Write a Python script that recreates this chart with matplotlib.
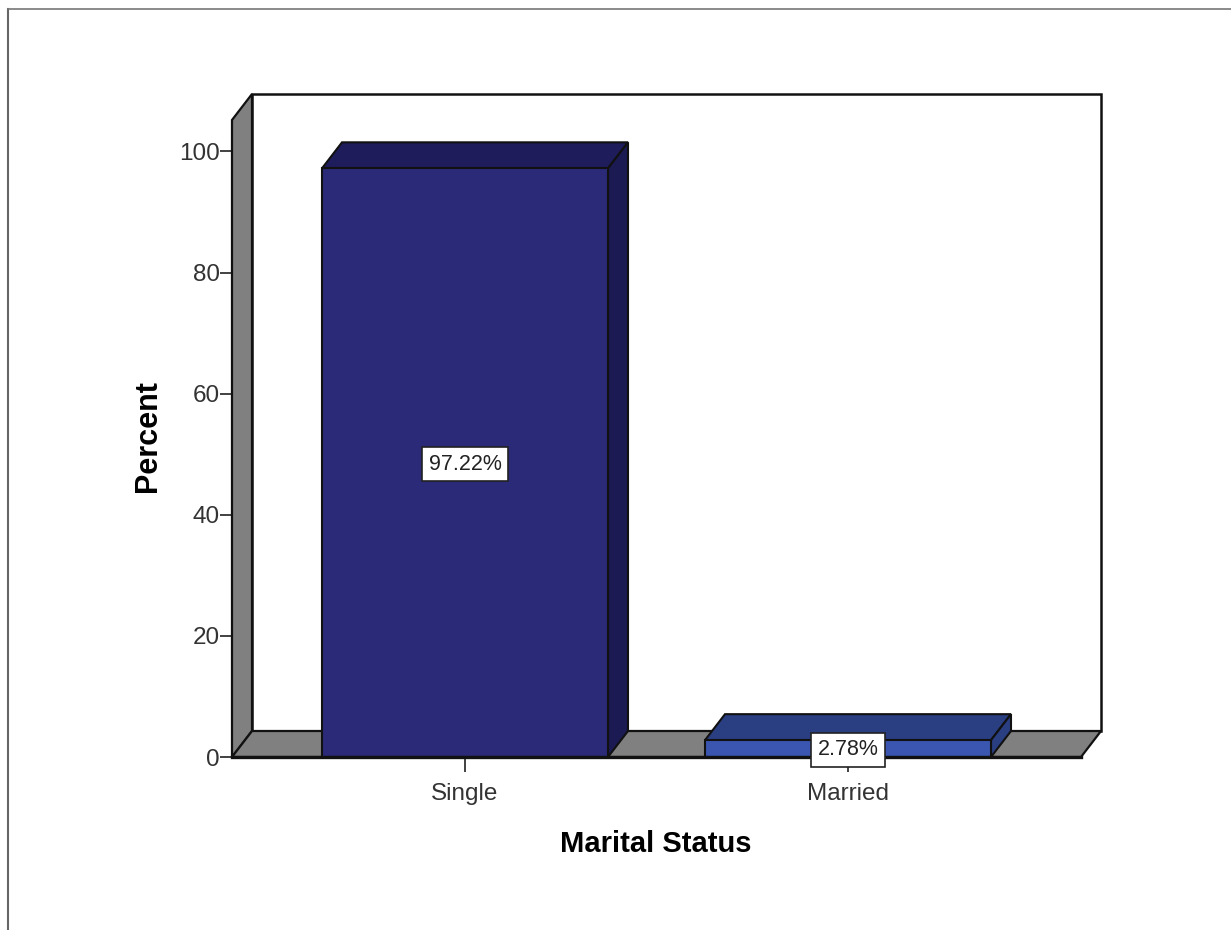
import matplotlib
matplotlib.use('Agg')
import matplotlib.pyplot as plt
from matplotlib.lines import Line2D
from matplotlib.patches import Polygon, Rectangle

categories = ['Single', 'Married']
percents = [97.22, 2.78]
labels = ['97.22%', '2.78%']
yticks = [0, 20, 40, 60, 80, 100]
front_colors = ['#2B2A78', '#3A56B0']
top_colors = ['#1F1C5C', '#2A3E82']
side_colors = ['#1B1A52', '#2A3E82']

W, H = 1231, 930
plt.rcParams['font.family'] = ['Liberation Sans', 'DejaVu Sans']
fig = plt.figure(figsize=(W / 100, H / 100), dpi=100, facecolor='white')

# Front plane of the 3-D box in pixels
L, R, B, T = 232, 1081, 757, 120
ax = fig.add_axes([L / W, 1 - B / H, (R - L) / W, (B - T) / H])
ppx = 383.0   # pixels per category step
ppy = 6.055   # pixels per percent
x0 = (L - 465) / ppx
x1 = (R - 465) / ppx
ymax = (B - T) / ppy
ax.set_xlim(x0, x1)
ax.set_ylim(0, ymax)
ax.set_facecolor('none')
for s in ax.spines.values():
    s.set_visible(False)

dx = 20 / ppx
dy = 26 / ppy
edge = '#111111'
wall = '#808080'


def poly(pts, fc, lw=2.0, z=2):
    ax.add_patch(Polygon(pts, closed=True, facecolor=fc, edgecolor=edge,
                         linewidth=lw, joinstyle='miter', clip_on=False, zorder=z))


# Back wall, left wall, floor
poly([(x0 + dx, dy), (x1 + dx, dy), (x1 + dx, ymax + dy), (x0 + dx, ymax + dy)], 'white', 1.8, 1)
poly([(x0, 0), (x0 + dx, dy), (x0 + dx, ymax + dy), (x0, ymax)], wall, 1.6, 1.5)
poly([(x0, 0), (x1, 0), (x1 + dx, dy), (x0 + dx, dy)], wall, 1.6, 1.5)

# Bars
width = 286 / ppx
xpos = list(range(len(categories)))
for i, (xc, v) in enumerate(zip(xpos, percents)):
    a, b = xc - width / 2, xc + width / 2
    poly([(a, v), (b, v), (b + dx, v + dy), (a + dx, v + dy)], top_colors[i], 1.5, 3)
    poly([(b, 0), (b + dx, dy), (b + dx, v + dy), (b, v)], side_colors[i], 1.5, 3)
    ax.add_patch(Rectangle((a, 0), width, v, facecolor=front_colors[i], edgecolor=edge,
                           linewidth=1.5, clip_on=False, zorder=3.5))
    ax.annotate(labels[i], (xc, v / 2), xytext=(0, -1), textcoords='offset points',
                ha='center', va='center', fontsize=15.5, color='#222222', zorder=6,
                bbox=dict(boxstyle='square,pad=0.3', facecolor='white', edgecolor='#222222', linewidth=1.2))

# Floor front edge on top
ax.add_line(Line2D([x0, x1], [0, 0], color=edge, lw=2.4, clip_on=False, zorder=4))

ax.set_xticks(xpos)
ax.set_xticklabels(categories)
ax.set_yticks(yticks)
ax.tick_params(axis='x', length=11, width=1.3, color='#333333', labelsize=17.5, labelcolor='#333333', pad=8)
ax.tick_params(axis='y', length=9, width=1.3, color='#333333', labelsize=17.5, labelcolor='#333333', pad=0)
ax.set_axisbelow(True)

fig.text(656 / W, 1 - 843.5 / H, 'Marital Status', ha='center', va='center',
         fontsize=21, fontweight='bold', color='black')
fig.text(147.5 / W, 1 - 436 / H, 'Percent', ha='center', va='center', rotation=90,
         fontsize=22, fontweight='bold', color='black')

# Outer frame of the screenshot
fig.add_artist(Line2D([7.5 / W, 7.5 / W], [0, 1 - 9 / H], color='#666666', lw=1.5))
fig.add_artist(Line2D([7.5 / W, 1], [1 - 9 / H, 1 - 9 / H], color='#777777', lw=1.2))

fig.savefig('out.png', dpi=100, facecolor='white')
